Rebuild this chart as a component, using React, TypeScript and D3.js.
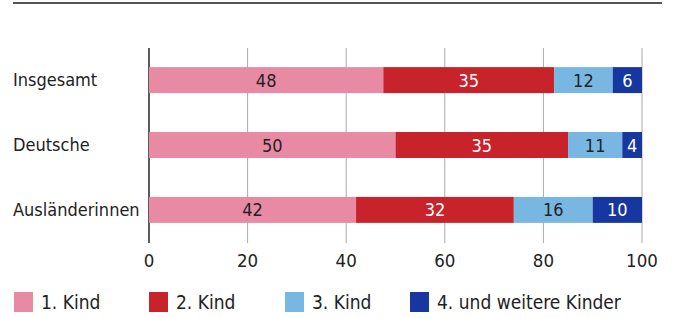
import React, { useRef, useEffect } from 'react';
import * as d3 from 'd3';

const categories = ['Insgesamt', 'Deutsche', 'Ausländerinnen'];
const seriesNames = ['1. Kind', '2. Kind', '3. Kind', '4. und weitere Kinder'];
const kind1 = [48, 50, 42];
const kind2 = [35, 35, 32];
const kind3 = [12, 11, 16];
const kind4 = [6, 4, 10];
const xTicks = [0, 20, 40, 60, 80, 100];

const colors = ['#e98aa4', '#c8222b', '#78b7e2', '#1637a0'];
const labelColors = ['#222', '#fff', '#222', '#fff'];
const FONT = '"DejaVu Sans Condensed", "DejaVu Sans", sans-serif';

const App = () => {
  const svgRef = useRef<SVGSVGElement>(null);

  useEffect(() => {
    const svg = d3.select(svgRef.current);
    svg.selectAll('*').remove();

    const series = [kind1, kind2, kind3, kind4];
    const x = d3.scaleLinear().domain([0, 100]).range([149, 642]);
    const y = d3.scaleBand().domain(categories).range([47, 243]).paddingInner(0.6).paddingOuter(0.31);

    // top rule
    svg.append('line')
      .attr('x1', 13).attr('x2', 662).attr('y1', 3).attr('y2', 3)
      .attr('stroke', '#555').attr('stroke-width', 2);

    // grid
    svg.append('g').selectAll('line')
      .data(xTicks)
      .enter()
      .append('line')
      .attr('x1', (d) => x(d)).attr('x2', (d) => x(d))
      .attr('y1', 48).attr('y2', 243)
      .attr('stroke', (d) => (d === 0 ? '#333' : '#aaa'))
      .attr('stroke-width', (d) => (d === 0 ? 1.6 : 1));

    // tick labels
    svg.append('g').selectAll('text')
      .data(xTicks)
      .enter()
      .append('text')
      .attr('x', (d) => x(d)).attr('y', 267)
      .attr('text-anchor', 'middle')
      .attr('font-family', FONT).attr('font-size', 18.5).attr('fill', '#222')
      .text((d) => d);

    // category labels
    svg.append('g').selectAll('text')
      .data(categories)
      .enter()
      .append('text')
      .attr('x', 13).attr('y', (d) => y(d)! + y.bandwidth() / 2 + 6)
      .attr('font-family', FONT).attr('font-size', 18).attr('fill', '#222')
      .text((d) => d);

    // stacked bars, drawn as share of the row total
    categories.forEach((cat, i) => {
      const total = d3.sum(series, (s) => s[i]);
      let start = 0;
      series.forEach((s, j) => {
        const v = s[i];
        const share = (v / total) * 100;
        const g = svg.append('g');
        g.append('rect')
          .attr('x', x(start)).attr('y', y(cat)!)
          .attr('width', x(start + share) - x(start)).attr('height', y.bandwidth())
          .attr('fill', colors[j]);
        g.append('text')
          .attr('x', x(start + share / 2)).attr('y', y(cat)! + y.bandwidth() / 2 + 6.5)
          .attr('text-anchor', 'middle')
          .attr('font-family', FONT).attr('font-size', 18).attr('fill', labelColors[j])
          .text(v);
        start += share;
      });
    });

    // legend
    const legendX = [14, 149, 285, 410];
    const lg = svg.append('g');
    seriesNames.forEach((name, j) => {
      lg.append('rect')
        .attr('x', legendX[j]).attr('y', 292).attr('width', 19).attr('height', 20)
        .attr('fill', colors[j]);
      lg.append('text')
        .attr('x', legendX[j] + 27).attr('y', 309)
        .attr('font-family', FONT).attr('font-size', 19).attr('fill', '#222')
        .text(name);
    });
  }, []);

  return (
    <svg ref={svgRef} width={673} height={318}
      style={{ position: 'absolute', left: 0, top: 0, background: '#fff' }} />
  );
};

export default App;
